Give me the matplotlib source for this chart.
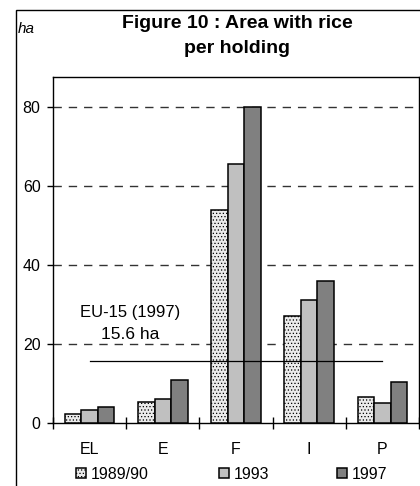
import numpy as np
import matplotlib
matplotlib.use("Agg")
import matplotlib.pyplot as plt
from matplotlib.patches import Rectangle

plt.rcParams['font.family'] = ['Liberation Sans', 'DejaVu Sans']
plt.rcParams['hatch.color'] = '#c4c4c4'
plt.rcParams['hatch.linewidth'] = 0.5

countries = ["EL", "E", "F", "I", "P"]
years = ["1989/90", "1993", "1997"]
v_1989 = [2.1, 5.3, 53.9, 27.0, 6.4]
v_1993 = [3.2, 6.1, 65.6, 31.1, 5.0]
v_1997 = [4.0, 10.7, 80.0, 36.0, 10.3]
eu_avg = 15.6

fig = plt.figure(figsize=(4.2, 4.86), dpi=100)
ax = fig.add_axes([53 / 420, 1 - 422.7 / 486, 366 / 420, (422.7 - 77) / 486])

# outer frame of the figure
fig.patches.append(Rectangle((16 / 420, -0.01), 1.0, 1 - 10 / 486 + 0.01,
                             transform=fig.transFigure, fill=False,
                             edgecolor='black', linewidth=1.0))

x = np.arange(len(countries)) + 0.5
w = 0.226
styles = [('#ebebeb', '.....'), ('#c0c0c0', None), ('#808080', None)]
handles = []
for i, (vals, (fc, hatch)) in enumerate(zip([v_1989, v_1993, v_1997], styles)):
    b = ax.bar(x + (i - 1) * w, vals, width=w, facecolor=fc, hatch=hatch,
               edgecolor='black', linewidth=1.1, zorder=3, label=years[i])
    handles.append(b)

for yv in [20, 40, 60, 80]:
    ax.axhline(yv, color='#333333', linewidth=1.0, dashes=(6, 5), zorder=1)

ax.plot([x[0], x[-1]], [eu_avg, eu_avg], color='black', linewidth=0.9, zorder=4)
ax.text(1.05, 27.9, "EU-15 (1997)", ha='center', va='center', fontsize=12)
ax.text(1.05, 22.4, "15.6 ha", ha='center', va='center', fontsize=12.5)

ax.set_xlim(0, 5)
ax.set_ylim(0, 87.6)
ax.set_yticks([0, 20, 40, 60, 80])
ax.tick_params(axis='y', direction='out', length=4, width=1, labelsize=11.5, pad=5)
ax.set_xticks(x)
ax.set_xticklabels(countries)
ax.tick_params(axis='x', which='major', length=0, labelsize=11.5, pad=14)
ax.set_xticks(np.arange(6), minor=True)
ax.tick_params(axis='x', which='minor', direction='inout', length=9, width=1)
for s in ax.spines.values():
    s.set_linewidth(1.0)

fig.text(237 / 420, 1 - 28.3 / 486, "Figure 10 : Area with rice",
         ha='center', va='baseline', fontsize=14, fontweight='bold')
fig.text(237 / 420, 1 - 53 / 486, "per holding",
         ha='center', va='baseline', fontsize=14, fontweight='bold')
fig.text(18 / 420, 1 - 33 / 486, "ha", ha='left', va='baseline',
         fontsize=11, style='italic')

for h, lab, xs in zip(handles, years, [76, 219, 337]):
    fig.legend([h], [lab], loc='center left',
               bbox_to_anchor=(xs / 420, 1 - 474.5 / 486), frameon=False,
               handlelength=0.6, handleheight=0.6, handletextpad=0.3,
               borderpad=0, borderaxespad=0, fontsize=11.5)

fig.savefig("out.png", dpi=100)
